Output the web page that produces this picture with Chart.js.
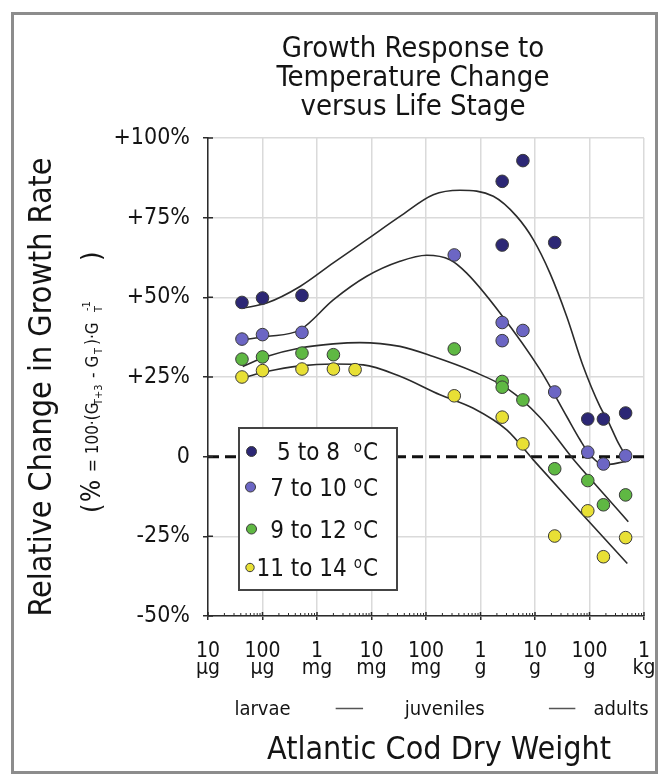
<!DOCTYPE html>
<html>
<head>
<meta charset="utf-8">
<title>Growth Response to Temperature Change versus Life Stage</title>
<script src="https://cdn.jsdelivr.net/npm/chart.js@4.4.1/dist/chart.umd.min.js"></script>
<style>
  html, body { margin: 0; padding: 0; background: #fff; }
  #wrap { position: relative; width: 662px; height: 774px; overflow: hidden; }
  #frame { position: absolute; left: 11px; top: 12px; width: 641px; height: 756px; border: 3px solid #8c8c8c; }
  #codChart { position: absolute; left: 0; top: 0; }
</style>
</head>
<body>
<div id="wrap">
  <div id="frame"></div>
  <canvas id="codChart" width="662" height="774"></canvas>
</div>
<script>
// 軸の目盛り (乾燥重量 g, 対数)
const massTicks = [1e-5, 1e-4, 1e-3, 1e-2, 1e-1, 1, 10, 100, 1000];
const massTickNumbers = ['10', '100', '1', '10', '100', '1', '10', '100', '1'];
const massTickUnits = ['µg', 'µg', 'mg', 'mg', 'mg', 'g', 'g', 'g', 'kg'];
const changeTicks = [-50, -25, 0, 25, 50, 75, 100];
const changeTickLabels = ['-50%', '-25%', '0', '+25%', '+50%', '+75%', '+100%'];

const seriesNames = ['5 to 8', '7 to 10', '9 to 12', '11 to 14'];
const stageNames = ['larvae', 'juveniles', 'adults'];

// 観測値: 乾燥重量 (g) と成長率の変化 (%)
const mass5to8 = [4.2e-5, 1e-4, 5.3e-4, 2.5, 2.5, 6, 23, 93, 180, 460];
const change5to8 = [48.4, 49.8, 50.6, 86.4, 66.4, 92.9, 67.2, 11.8, 11.8, 13.7];

const mass7to10 = [4.2e-5, 1e-4, 5.3e-4, 0.33, 2.5, 2.5, 6, 23, 93, 180, 460];
const change7to10 = [36.9, 38.3, 39.0, 63.3, 42.1, 36.4, 39.6, 20.3, 1.4, -2.3, 0.3];

const mass9to12 = [4.2e-5, 1e-4, 5.3e-4, 2e-3, 0.33, 2.5, 2.5, 6, 23, 93, 180, 460];
const change9to12 = [30.6, 31.3, 32.5, 32.0, 33.8, 23.6, 21.8, 17.8, -3.8, -7.5, -15.1, -12.0];

const mass11to14 = [4.2e-5, 1e-4, 5.3e-4, 2e-3, 5e-3, 0.33, 2.5, 6, 23, 93, 180, 460];
const change11to14 = [25.0, 27.0, 27.5, 27.5, 27.3, 19.1, 12.4, 4.0, -24.9, -17.0, -31.4, -25.4];

// 近似曲線
const fitMass5to8 = [4.34e-5, 1.19e-4, 4.88e-4, 1.99e-3, 8.17e-3, 0.0333, 0.136, 0.421, 1.72, 4.61, 9.31, 18.8, 38.2, 76.9, 156, 221, 316, 468];
const fitChange5to8 = [46.6, 48.2, 53.4, 60.8, 68.1, 75.4, 82.2, 83.6, 81.7, 75.4, 68.1, 57.6, 44.0, 28.3, 15.7, 11.0, 5.3, 0.0];

const fitMass7to10 = [4.34e-5, 1.19e-4, 4.88e-4, 1.99e-3, 8.17e-3, 0.0333, 0.103, 0.275, 0.558, 2.28, 12.4, 38.2, 67.0, 102, 179, 468];
const fitChange7to10 = [36.7, 37.7, 39.8, 49.2, 56.6, 61.3, 63.2, 61.8, 57.6, 45.1, 27.3, 12.6, 5.3, 0.6, -2.6, -1.5];

const fitMass9to12 = [4.34e-5, 1.19e-4, 4.88e-4, 1.99e-3, 6.15e-3, 0.0333, 0.136, 0.738, 3.03, 12.4, 50.5, 156, 515];
const fitChange9to12 = [28.3, 31.4, 34.1, 35.4, 35.8, 34.6, 31.4, 26.7, 21.5, 12.3, -0.8, -10.4, -20.4];

const fitMass11to14 = [4.34e-5, 1.19e-4, 4.88e-4, 1.99e-3, 7.08e-3, 0.0333, 0.181, 0.738, 3.03, 9.31, 67.0, 494];
const fitChange11to14 = [24.7, 26.7, 28.5, 29.1, 28.8, 25.2, 19.4, 15.2, 8.4, -1.0, -17.3, -33.5];

const FONT = '"DejaVu Sans Condensed", "Liberation Sans", Arial, sans-serif';
const INK = '#141414';
const AXIS = '#2b2b2b';
const GRID = '#dadada';
const pointColors = ['#2c2775', '#6c66c4', '#5fb843', '#e8e035'];

const toPoints = (xs, ys) => xs.map((m, i) => ({ x: m, y: ys[i] }));

const observed = [
    toPoints(mass5to8, change5to8),
    toPoints(mass7to10, change7to10),
    toPoints(mass9to12, change9to12),
    toPoints(mass11to14, change11to14)
];
const fitted = [
    toPoints(fitMass5to8, fitChange5to8),
    toPoints(fitMass7to10, fitChange7to10),
    toPoints(fitMass9to12, fitChange9to12),
    toPoints(fitMass11to14, fitChange11to14)
];

const datasets = [];
observed.forEach((pts, i) => {
    datasets.push({
        type: 'scatter',
        label: seriesNames[i] + ' ºC',
        data: pts,
        backgroundColor: pointColors[i],
        borderColor: '#3a3a3a',
        borderWidth: 1,
        pointRadius: 6.3,
        order: 1
    });
});
fitted.forEach((pts, i) => {
    datasets.push({
        type: 'line',
        label: 'fit ' + seriesNames[i],
        data: pts,
        borderColor: '#2b2b2b',
        borderWidth: 1.6,
        pointRadius: 0,
        fill: false,
        cubicInterpolationMode: 'monotone',
        order: 5
    });
});
// ゼロの破線
datasets.push({
    type: 'line',
    label: 'zero',
    data: [{ x: massTicks[0], y: 0 }, { x: massTicks[massTicks.length - 1], y: 0 }],
    borderColor: '#111',
    borderWidth: 3,
    borderDash: [11, 6],
    pointRadius: 0,
    fill: false,
    order: 10
});

function drawRuns(ctx, runs) {
    runs.forEach(r => {
        ctx.font = r.s + 'px ' + FONT;
        ctx.fillText(r.t, r.at, r.dy || 0);
    });
}

const decorPlugin = {
    id: 'codDecor',
    afterDraw(chart) {
        const ctx = chart.ctx;
        const xs = chart.scales.x;
        const ys = chart.scales.y;
        const area = chart.chartArea;
        ctx.save();

        // 軸の内側の目盛りと補助目盛り
        ctx.strokeStyle = AXIS;
        ctx.lineWidth = 1.5;
        ctx.beginPath();
        changeTicks.forEach(v => {
            const py = ys.getPixelForValue(v);
            ctx.moveTo(area.left, py);
            ctx.lineTo(area.left + 5, py);
        });
        massTicks.forEach(v => {
            const px = xs.getPixelForValue(v);
            ctx.moveTo(px, area.bottom);
            ctx.lineTo(px, area.bottom - 4);
        });
        ctx.stroke();
        ctx.lineWidth = 1;
        ctx.beginPath();
        massTicks.slice(0, -1).forEach(v => {
            for (let k = 2; k <= 9; k++) {
                const px = xs.getPixelForValue(v * k);
                ctx.moveTo(px, area.bottom);
                ctx.lineTo(px, area.bottom - 3);
            }
        });
        ctx.stroke();

        ctx.fillStyle = INK;

        // タイトル
        ctx.textAlign = 'center';
        ctx.textBaseline = 'alphabetic';
        ctx.font = '29px ' + FONT;
        ctx.fillText('Growth Response to', 413, 57);
        ctx.fillText('Temperature Change', 413, 86);
        ctx.fillText('versus Life Stage', 413, 115);

        // x 軸タイトルと成長段階
        ctx.font = '32px ' + FONT;
        ctx.fillText('Atlantic Cod Dry Weight', 439, 759);
        ctx.font = '20px ' + FONT;
        const stageAt = [1e-4, 0.22, 380];
        stageNames.forEach((s, i) => ctx.fillText(s, xs.getPixelForValue(stageAt[i]), 715));
        ctx.strokeStyle = '#555';
        ctx.lineWidth = 1.3;
        ctx.beginPath();
        [[2.2e-3, 7e-3], [18, 55]].forEach(([a, b]) => {
            ctx.moveTo(xs.getPixelForValue(a), 708.5);
            ctx.lineTo(xs.getPixelForValue(b), 708.5);
        });
        ctx.stroke();

        // y 軸タイトル
        ctx.save();
        ctx.translate(51, 387);
        ctx.rotate(-Math.PI / 2);
        ctx.font = '32px ' + FONT;
        ctx.fillText('Relative Change in Growth Rate', 0, 0);
        ctx.restore();

        // 式
        ctx.save();
        ctx.translate(98, 513);
        ctx.rotate(-Math.PI / 2);
        ctx.textAlign = 'left';
        drawRuns(ctx, [
            { t: '(', s: 27, at: 0, dy: 2 },
            { t: '%', s: 26, at: 11, dy: 2 },
            { t: '= 100·(G', s: 17, at: 41 },
            { t: 'T+3', s: 11, at: 108, dy: 4 },
            { t: '- G', s: 17, at: 135 },
            { t: 'T', s: 11, at: 159, dy: 4 },
            { t: ')·G', s: 17, at: 168 },
            { t: 'T', s: 11, at: 201, dy: 4 },
            { t: '-1', s: 11, at: 202, dy: -8 },
            { t: ')', s: 27, at: 252, dy: 2 }
        ]);
        ctx.restore();

        // 凡例
        const box = { l: 239, t: 428, r: 397, b: 590 };
        ctx.fillStyle = '#fff';
        ctx.fillRect(box.l, box.t, box.r - box.l, box.b - box.t);
        ctx.strokeStyle = '#444';
        ctx.lineWidth = 2;
        ctx.strokeRect(box.l, box.t, box.r - box.l, box.b - box.t);
        const rowY = [451.5, 487, 529, 567.5];
        const rowX = [251.5, 250.5, 251.5, 250];
        const rowR = [5, 5, 5, 4.2];
        seriesNames.forEach((name, i) => {
            ctx.beginPath();
            ctx.arc(rowX[i], rowY[i], rowR[i], 0, Math.PI * 2);
            ctx.fillStyle = pointColors[i];
            ctx.fill();
            ctx.lineWidth = 1;
            ctx.strokeStyle = '#3a3a3a';
            ctx.stroke();
            ctx.fillStyle = INK;
            ctx.textAlign = 'right';
            ctx.textBaseline = 'alphabetic';
            const base = rowY[i] + 8.5;
            ctx.font = '24px ' + FONT;
            ctx.fillText('C', 378, base);
            const cw = ctx.measureText('C').width;
            ctx.font = '15px ' + FONT;
            ctx.fillText('o', 378 - cw - 1, base - 8);
            const ow = ctx.measureText('o').width;
            ctx.font = '24px ' + FONT;
            ctx.fillText(name + (i === 0 ? '  ' : ' '), 378 - cw - ow - 1, base);
        });

        ctx.restore();
    }
};

new Chart(document.getElementById('codChart'), {
    type: 'scatter',
    data: { datasets: datasets },
    options: {
        responsive: false,
        animation: false,
        events: [],
        layout: { padding: { left: 0, right: 18, top: 138, bottom: 0 } },
        plugins: {
            legend: { display: false },
            tooltip: { enabled: false },
            title: { display: false }
        },
        scales: {
            x: {
                type: 'logarithmic',
                min: massTicks[0],
                max: massTicks[massTicks.length - 1],
                afterBuildTicks: (axis) => {
                    axis.ticks = massTicks.map(v => ({ value: v }));
                },
                afterFit: (scale) => {
                    scale.height = 158;
                    scale.paddingLeft = 0;
                    scale.paddingRight = 0;
                },
                ticks: {
                    autoSkip: false,
                    maxRotation: 0,
                    padding: 23,
                    color: INK,
                    font: { family: FONT, size: 21, lineHeight: '17px' },
                    callback: (value, index) => [massTickNumbers[index], massTickUnits[index]]
                },
                grid: { color: GRID, lineWidth: 1.5, tickColor: AXIS, tickLength: 4, tickWidth: 1.5 },
                border: { color: AXIS, width: 1.5 }
            },
            y: {
                type: 'linear',
                min: changeTicks[0],
                max: changeTicks[changeTicks.length - 1],
                afterBuildTicks: (axis) => {
                    axis.ticks = changeTicks.map(v => ({ value: v }));
                },
                afterFit: (scale) => {
                    scale.width = 208;
                    scale.paddingTop = 0;
                    scale.paddingBottom = 0;
                },
                ticks: {
                    padding: 13,
                    color: INK,
                    font: { family: FONT, size: 23 },
                    callback: (value, index) => changeTickLabels[index]
                },
                grid: {
                    color: (c) => (c.tick && c.tick.value === 0 ? 'rgba(0,0,0,0)' : GRID),
                    lineWidth: 1.5,
                    tickColor: AXIS,
                    tickLength: 5,
                    tickWidth: 1.5
                },
                border: { color: AXIS, width: 1.5 }
            }
        }
    },
    plugins: [decorPlugin]
});
</script>
</body>
</html>
